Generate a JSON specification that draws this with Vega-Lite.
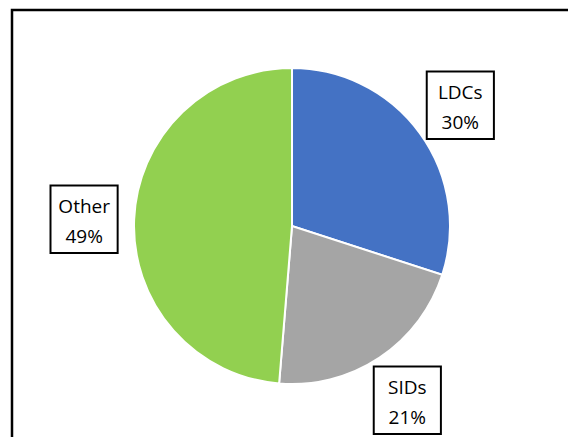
{
  "$schema": "https://vega.github.io/schema/vega-lite/v6.json",
  "width": 560,
  "height": 432,
  "padding": {"left": 12, "top": 10, "right": 0, "bottom": 0},
  "background": "white",
  "view": {"stroke": "black", "strokeWidth": 2.5},
  "config": {"view": {"stroke": "black", "strokeWidth": 2.5}},
  "data": {"values": [
    {"category": "LDCs", "share": 0.300, "rank": 1},
    {"category": "SIDs", "share": 0.213, "rank": 2},
    {"category": "Other", "share": 0.487, "rank": 3}
  ]},
  "encoding": {
    "theta": {"field": "share", "type": "quantitative", "stack": true},
    "order": {"field": "rank", "type": "quantitative"}
  },
  "layer": [
    {
      "mark": {"type": "arc", "radius": 158, "stroke": "white", "strokeWidth": 2},
      "encoding": {
        "color": {"field": "category", "type": "nominal", "legend": null,
          "scale": {"domain": ["LDCs", "SIDs", "Other"], "range": ["#4472C4", "#A5A5A5", "#92D050"]}}
      }
    },
    {
      "mark": {"type": "text", "radius": 208, "text": "■", "font": "DejaVu Sans", "fontSize": 88, "fill": "white", "stroke": "black", "strokeWidth": 2, "baseline": "middle", "align": "center", "dy": -2}
    },
    {
      "mark": {"type": "text", "radius": 208, "dy": -11, "font": "Open Sans", "fontSize": 19, "fill": "black"},
      "encoding": {"text": {"field": "category", "type": "nominal"}}
    },
    {
      "mark": {"type": "text", "radius": 208, "dy": 19, "font": "Open Sans", "fontSize": 19, "fill": "black"},
      "encoding": {"text": {"field": "share", "type": "quantitative", "format": ".0%"}}
    }
  ]
}
